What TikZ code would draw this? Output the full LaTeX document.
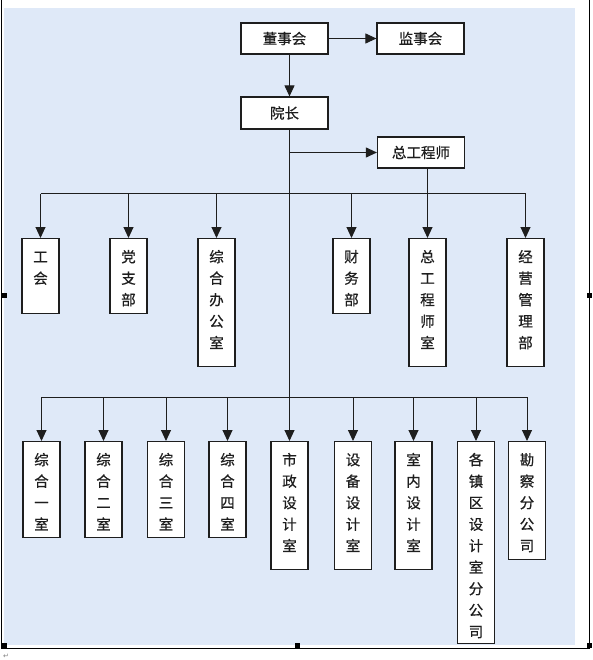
\documentclass[tikz,border=0pt]{standalone}
\usepackage{fontspec}
\newfontfamily\cjk{Noto Sans CJK SC}[FakeBold=0.6]
\newfontfamily\dejavu{DejaVu Sans}
\usetikzlibrary{arrows.meta}
\definecolor{bgblue}{HTML}{DFE9F8}
\definecolor{ink}{HTML}{1E1E1E}
\tikzset{
  ln/.style={draw=ink, line width=1pt},
  arr/.style={ln, -{Triangle[length=11pt,width=10pt]}},
  hbox/.style={draw=ink, fill=white, line width=1.2pt, minimum width=87pt, minimum height=31pt, inner sep=0pt,
    font=\cjk\fontsize{14.5pt}{17pt}\selectfont, text=ink},
  vbox/.style={draw=ink, fill=white, line width=1.2pt, minimum width=37pt, anchor=north, inner sep=0pt},
  vtxt/.style={anchor=north, inner sep=0pt, align=center, text=ink,
    font=\cjk\fontsize{14.5pt}{21.5pt}\selectfont},
}
\newcommand{\st}{\rule{0pt}{13pt}}
\begin{document}
\begin{tikzpicture}[x=1pt,y=-1pt]
\useasboundingbox (0,0) rectangle (593,660);
% background and frame
\fill[bgblue] (4,8) rectangle (575,645);
\draw[black, line width=1pt] (1.5,0) -- (1.5,648) -- (589.5,648) -- (589.5,0);
\foreach \hx/\hy in {4/295, 589/295, 4/645, 297/645, 589/645}
  \fill[black] (\hx-2.5,\hy-2.5) rectangle (\hx+2.5,\hy+2.5);
\node[inner sep=0pt, text=gray, font=\dejavu\fontsize{7pt}{8pt}\selectfont] (pm) at (6,656) {↵};

\coordinate (sp) at (289.5,0);
\coordinate (st) at (427.5,0);
\coordinate (bus1) at (0,194);
\coordinate (bus2) at (0,397);

% top boxes
\node[hbox] (dsh) at (284.5,38.5) {董事会};
\node[hbox] (jsh) at (420.5,38.5) {监事会};
\node[hbox, minimum height=32pt] (yz) at (284.5,113) {院长};
\node[hbox] (zgs) at (421,152.5) {总工程师};

% level 1 boxes
\node[vbox, minimum height=75pt]  (gh)   at (40.5,238) {};
\node[vbox, minimum height=75pt]  (dzb)  at (128.5,238) {};
\node[vbox, minimum height=128pt] (zhb)  at (216.5,238) {};
\node[vbox, minimum height=75pt]  (cwb)  at (351.5,238) {};
\node[vbox, minimum height=128pt] (zgsr) at (427.5,238) {};
\node[vbox, minimum height=128pt] (jyb)  at (525.5,238) {};
\node[vtxt] (t-gh)   at ([yshift=-11pt]gh.north)   {\st 工\\会};
\node[vtxt] (t-dzb)  at ([yshift=-11pt]dzb.north)  {\st 党\\支\\部};
\node[vtxt] (t-zhb)  at ([yshift=-11pt]zhb.north)  {\st 综\\合\\办\\公\\室};
\node[vtxt] (t-cwb)  at ([yshift=-11pt]cwb.north)  {\st 财\\务\\部};
\node[vtxt] (t-zgsr) at ([yshift=-11pt]zgsr.north) {\st 总\\工\\程\\师\\室};
\node[vtxt] (t-jyb)  at ([yshift=-11pt]jyb.north)  {\st 经\\营\\管\\理\\部};

% level 2 boxes
\node[vbox, minimum height=96pt]  (z1) at (41.5,441) {};
\node[vbox, minimum height=96pt]  (z2) at (103.5,441) {};
\node[vbox, minimum height=96pt]  (z3) at (166,441) {};
\node[vbox, minimum height=96pt]  (z4) at (227.5,441) {};
\node[vbox, minimum height=128pt] (sz) at (289.5,441) {};
\node[vbox, minimum height=128pt] (sb) at (353,441) {};
\node[vbox, minimum height=128pt] (sn) at (413.5,441) {};
\node[vbox, minimum height=202pt] (gz) at (476,441) {};
\node[vbox, minimum height=118pt] (kc) at (527,441) {};
\node[vtxt] (t-z1) at ([yshift=-11pt]z1.north) {\st 综\\合\\一\\室};
\node[vtxt] (t-z2) at ([yshift=-11pt]z2.north) {\st 综\\合\\二\\室};
\node[vtxt] (t-z3) at ([yshift=-11pt]z3.north) {\st 综\\合\\三\\室};
\node[vtxt] (t-z4) at ([yshift=-11pt]z4.north) {\st 综\\合\\四\\室};
\node[vtxt] (t-sz) at ([yshift=-11pt]sz.north) {\st 市\\政\\设\\计\\室};
\node[vtxt] (t-sb) at ([yshift=-11pt]sb.north) {\st 设\\备\\设\\计\\室};
\node[vtxt] (t-sn) at ([yshift=-11pt]sn.north) {\st 室\\内\\设\\计\\室};
\node[vtxt] (t-gz) at ([yshift=-11pt]gz.north) {\st 各\\镇\\区\\设\\计\\室\\分\\公\\司};
\node[vtxt] (t-kc) at ([yshift=-11pt]kc.north) {\st 勘\\察\\分\\公\\司};

% connectors
\draw[arr] (dsh.east) -- (jsh.west);
\draw[arr] (dsh.south -| sp) -- (yz.north -| sp);
\draw[arr] (yz.south -| sp) -- (sz.north);
\draw[arr] (sp |- zgs.west) -- (zgs.west);
\draw[ln] (zgs.south -| st) -- (st |- bus1);
\draw[ln] (gh.north |- bus1) -- (jyb.north |- bus1);
\foreach \b in {gh,dzb,zhb,cwb,zgsr,jyb}
  \draw[arr] (\b.north |- bus1) -- (\b.north);
\draw[ln] (z1.north |- bus2) -- (kc.north |- bus2);
\foreach \b in {z1,z2,z3,z4,sb,sn,gz,kc}
  \draw[arr] (\b.north |- bus2) -- (\b.north);
\end{tikzpicture}
\end{document}
